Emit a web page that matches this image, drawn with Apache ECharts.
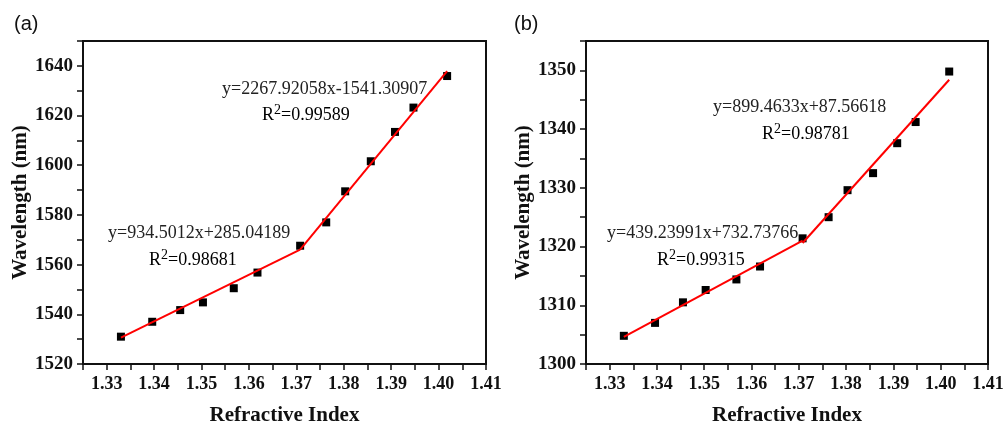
<!DOCTYPE html>
<html>
<head>
<meta charset="utf-8">
<script src="https://cdn.jsdelivr.net/npm/echarts@6/dist/echarts.min.js"></script>
<style>
  html, body { margin: 0; padding: 0; background: #fff; }
  #chart { width: 1005px; height: 426px; }
</style>
</head>
<body>
<div id="chart"></div>
<script>
// refractive index of the samples (same for both panels)
const refractiveIndex = [1.3330, 1.3396, 1.3455, 1.3503, 1.3568, 1.3618, 1.3708, 1.3763, 1.3803, 1.3857, 1.3908, 1.3947, 1.4018]
// resonance wavelength, panel (a)
const wavelengthA = [1531.0, 1537.0, 1541.7, 1544.8, 1550.5, 1556.8, 1567.6, 1577.0, 1589.5, 1601.6, 1613.4, 1623.2, 1635.9]
// resonance wavelength, panel (b)
const wavelengthB = [1304.8, 1307.0, 1310.5, 1312.6, 1314.4, 1316.6, 1321.4, 1325.0, 1329.6, 1332.5, 1337.6, 1341.2, 1349.8]

// fitted segments (end points)
const fitA1 = [[1.3330, 1530.6], [1.3708, 1566.0]]
const fitA2 = [[1.3708, 1566.0], [1.4018, 1637.9]]
const fitB1 = [[1.3330, 1304.6], [1.3708, 1321.0]]
const fitB2 = [[1.3708, 1320.6], [1.4018, 1348.4]]

const fitTextA = ['y=2267.92058x-1541.30907', '0.99589', 'y=934.5012x+285.04189', '0.98681']
const fitTextB = ['y=899.4633x+87.56618', '0.98781', 'y=439.23991x+732.73766', '0.99315']

const serif = '"Liberation Serif", "DejaVu Serif", serif'

const xAxisFor = (gridIndex) => ({
  type: 'value',
  gridIndex,
  min: 1.325,
  max: 1.41,
  interval: 0.005,
  name: 'Refractive Index',
  nameLocation: 'middle',
  nameGap: 41,
  nameTextStyle: { fontFamily: serif, fontWeight: 'bold', fontSize: 21, color: '#111' },
  axisLine: { lineStyle: { color: '#111', width: 2 } },
  axisTick: { show: true, length: 6, lineStyle: { color: '#111', width: 1.5 } },
  axisLabel: {
    margin: 11,
    fontFamily: serif,
    fontWeight: 'bold',
    fontSize: 18,
    color: '#111',
    formatter: (v) => (Math.round(v * 1000) % 10 === 0 ? v.toFixed(2) : '')
  },
  splitLine: { show: false }
})

const yAxisFor = (gridIndex, min, max, step) => ({
  type: 'value',
  gridIndex,
  min,
  max,
  interval: step / 2,
  name: 'Wavelength (nm)',
  nameLocation: 'middle',
  nameGap: 50,
  nameTextStyle: { fontFamily: serif, fontWeight: 'bold', fontSize: 21, color: '#111' },
  axisLine: { show: true, lineStyle: { color: '#111', width: 2 } },
  axisTick: { show: true, length: 6, lineStyle: { color: '#111', width: 1.5 } },
  axisLabel: {
    margin: 10,
    fontFamily: serif,
    fontWeight: 'bold',
    fontSize: 19,
    color: '#111',
    formatter: (v) => (Math.round(v) % step === 0 ? String(Math.round(v)) : '')
  },
  splitLine: { show: false }
})

const fitLine = (data, idx) => ({
  type: 'line',
  xAxisIndex: idx,
  yAxisIndex: idx,
  data,
  symbol: 'none',
  lineStyle: { color: '#ff0000', width: 2 },
  z: 3,
  silent: true
})

const points = (ys, idx) => ({
  type: 'scatter',
  xAxisIndex: idx,
  yAxisIndex: idx,
  data: refractiveIndex.map((x, i) => [x, ys[i]]),
  symbol: 'rect',
  symbolSize: 8,
  itemStyle: { color: '#000', opacity: 1 },
  z: 2
})

const eqText = (left, top, text) => ({
  type: 'text',
  left,
  top,
  style: { text, font: '18px ' + serif, fill: '#222' }
})

const r2Text = (left, top, value) => ({
  type: 'text',
  left,
  top,
  style: {
    text: '{r|R}{s|2}{r|=' + value + '}',
    rich: {
      r: { fontSize: 18, fontFamily: serif, color: '#222' },
      s: { fontSize: 14, fontFamily: serif, color: '#222', padding: [0, 0, 10, 0] }
    }
  }
})

const chart = echarts.init(document.getElementById('chart'), null, { renderer: 'canvas' })

const gridBase = { top: 41, height: 323, show: true, borderColor: '#111', borderWidth: 2, backgroundColor: 'transparent', containLabel: false, outerBoundsMode: 'none' }

chart.setOption({
  backgroundColor: '#fff',
  animation: false,
  grid: [
    Object.assign({ left: 83, width: 403 }, gridBase),
    Object.assign({ left: 586, width: 402 }, gridBase)
  ],
  xAxis: [xAxisFor(0), xAxisFor(1)],
  yAxis: [yAxisFor(0, 1520, 1650, 20), yAxisFor(1, 1300, 1355, 10)],
  series: [
    points(wavelengthA, 0),
    fitLine(fitA1, 0),
    fitLine(fitA2, 0),
    points(wavelengthB, 1),
    fitLine(fitB1, 1),
    fitLine(fitB2, 1)
  ],
  graphic: [
    { type: 'text', left: 14, top: 14, style: { text: '(a)', font: '20px "Liberation Sans", Arial, sans-serif', fill: '#111' } },
    { type: 'text', left: 514, top: 14, style: { text: '(b)', font: '20px "Liberation Sans", Arial, sans-serif', fill: '#111' } },
    eqText(222, 80, fitTextA[0]),
    r2Text(262, 103, fitTextA[1]),
    eqText(108, 224, fitTextA[2]),
    r2Text(149, 248, fitTextA[3]),
    eqText(713, 98, fitTextB[0]),
    r2Text(762, 122, fitTextB[1]),
    eqText(607, 224, fitTextB[2]),
    r2Text(657, 248, fitTextB[3])
  ]
})

window.addEventListener('resize', () => chart.resize())
</script>
</body>
</html>
